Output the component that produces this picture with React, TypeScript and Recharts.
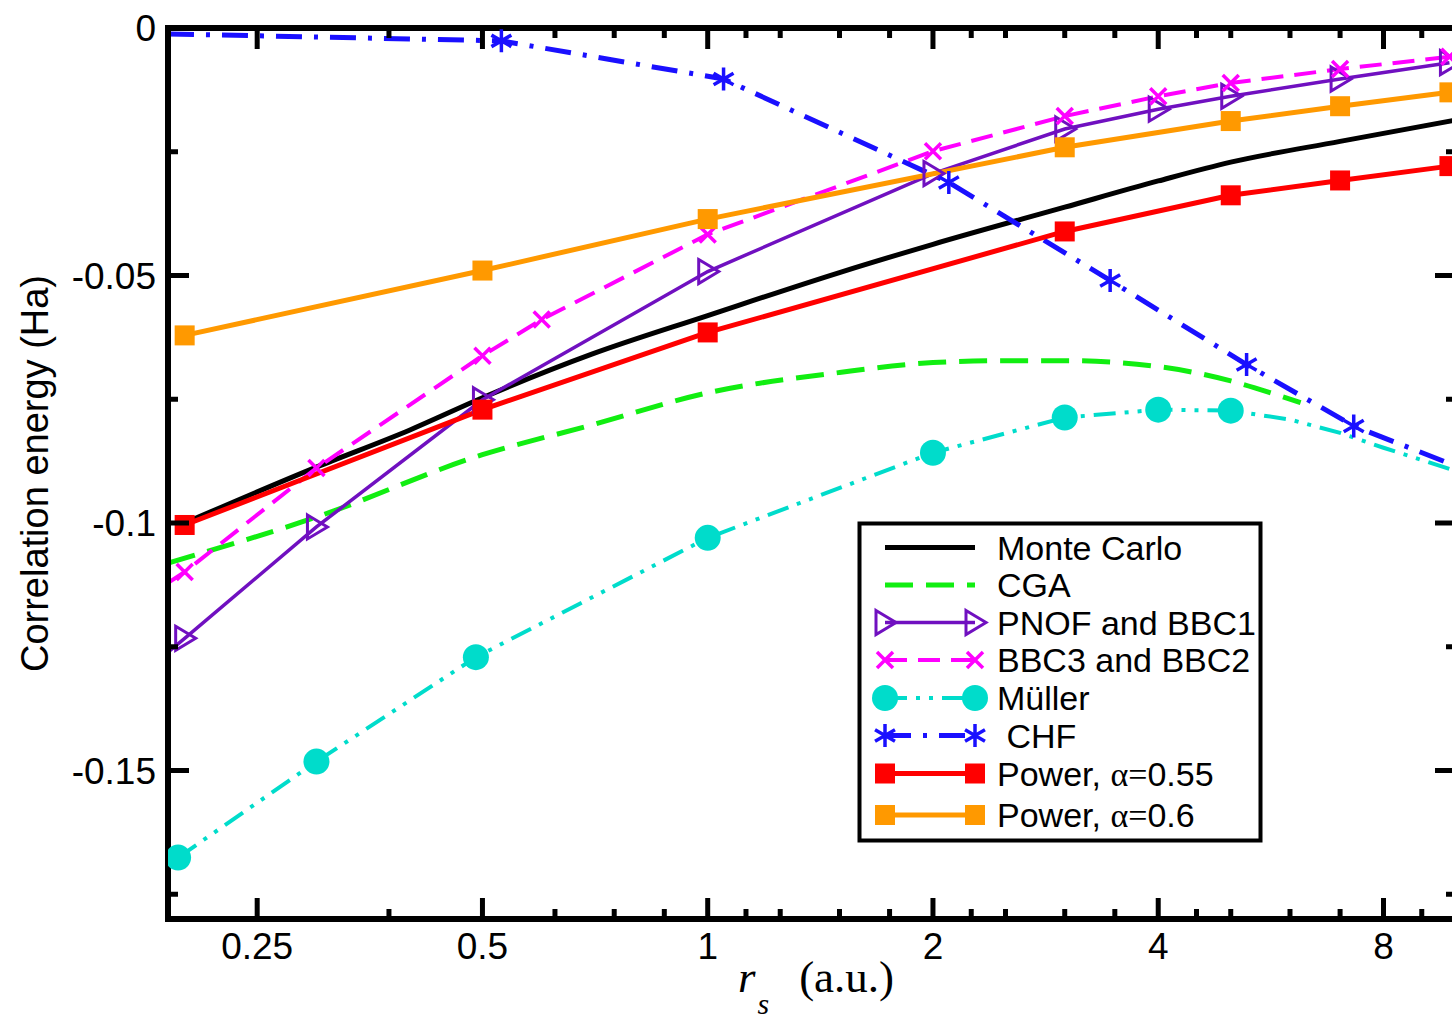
import React from "react";
import { LineChart, Line, XAxis, YAxis, ReferenceLine } from "recharts";

// axis ticks
const X_MAJOR = [0.25, 0.5, 1, 2, 4, 8];
const X_MINOR = [0.375, 0.625, 0.75, 0.875, 1.125, 1.25, 1.5, 1.75, 2.25, 2.5, 3, 3.5, 4.5, 5, 6, 7, 9];
const Y_MAJOR = [0, -0.05, -0.1, -0.15];
const Y_MINOR = [-0.025, -0.075, -0.125, -0.175];

// Monte Carlo
const MC_RS = [0.2, 0.3, 0.4, 0.5, 0.7, 1, 1.5, 2, 3, 4, 5, 7, 10];
const MC_E = [-0.1, -0.0887, -0.0812, -0.0747, -0.0659, -0.0581, -0.0494, -0.0437, -0.0362, -0.0309, -0.0271, -0.0229, -0.0186];

// CGA
const CGA_RS = [0.19, 0.3, 0.5, 0.7, 1, 1.5, 2, 2.5, 3, 4, 5, 5.6, 6.2];
const CGA_E = [-0.1081, -0.0988, -0.0862, -0.0802, -0.0737, -0.0696, -0.0676, -0.0672, -0.0672, -0.0684, -0.0713, -0.0735, -0.0757];

// PNOF and BBC1
const PNOF_RS = [0.19, 0.2, 0.3, 0.5, 1, 2, 3, 4, 5, 7, 9.8];
const PNOF_E = [-0.1261, -0.1233, -0.1008, -0.0751, -0.0492, -0.0294, -0.0204, -0.0164, -0.0138, -0.0103, -0.007];
const PNOF_MARK = [0, 1, 1, 1, 1, 1, 1, 1, 1, 1, 1];

// BBC3 and BBC2
const BBC3_RS = [0.19, 0.2, 0.3, 0.5, 0.6, 1, 2, 3, 4, 5, 7, 9.8];
const BBC3_E = [-0.1121, -0.1099, -0.0889, -0.0662, -0.0589, -0.0417, -0.0249, -0.0178, -0.0138, -0.0111, -0.0083, -0.0058];
const BBC3_MARK = [0, 1, 1, 1, 1, 1, 1, 1, 1, 1, 1, 1];

// Müller
const MULLER_RS = [0.196, 0.3, 0.49, 1, 2, 3, 4, 5, 6, 7, 8, 10];
const MULLER_E = [-0.1676, -0.1482, -0.1271, -0.103, -0.0858, -0.0787, -0.0771, -0.0773, -0.0791, -0.0818, -0.0848, -0.0895];
const MULLER_MARK = [1, 1, 1, 1, 1, 1, 1, 1, 0, 0, 0, 0];

// CHF
const CHF_RS = [0.19, 0.53, 1.05, 2.1, 3.45, 5.25, 7.3, 10];
const CHF_E = [-0.0012, -0.0026, -0.0103, -0.0312, -0.051, -0.068, -0.0804, -0.0885];
const CHF_MARK = [0, 1, 1, 1, 1, 1, 1, 0];

// Power functional
const POWER_RS = [0.2, 0.5, 1, 3, 5, 7, 9.8];
const POWER055_E = [-0.1004, -0.0771, -0.0615, -0.0411, -0.0338, -0.0308, -0.0279];
const POWER06_E = [-0.0621, -0.049, -0.0386, -0.0241, -0.0188, -0.0158, -0.013];

const W = 1480;
const H = 1019;
const AX = 1; // axis band thickness
const M = { top: 28, right: 24, bottom: 100 - AX, left: 168 - AX };
const PLOT_TOP = M.top;
const PLOT_RIGHT = W - M.right;

const SANS = "'Liberation Sans', Arial, Helvetica, sans-serif";
const SERIF = "'Liberation Serif', 'Times New Roman', serif";

type MarkerKind = "tri" | "cross" | "circle" | "star" | "square";

function Marker({ kind, cx, cy, color }: { kind: MarkerKind; cx: number; cy: number; color: string }) {
  switch (kind) {
    case "square":
      return <rect x={cx - 10} y={cy - 10} width={20} height={20} fill={color} />;
    case "tri":
      return (
        <path
          d={`M${cx - 9},${cy - 12} L${cx + 11},${cy} L${cx - 9},${cy + 12} Z`}
          fill="none"
          stroke={color}
          strokeWidth={3}
        />
      );
    case "cross":
      return (
        <path
          d={`M${cx - 8},${cy - 8} L${cx + 8},${cy + 8} M${cx - 8},${cy + 8} L${cx + 8},${cy - 8}`}
          stroke={color}
          strokeWidth={3.5}
        />
      );
    case "circle":
      return <circle cx={cx} cy={cy} r={13} fill={color} />;
    case "star": {
      const r = 11.5;
      const c = r * Math.cos(Math.PI / 6);
      const s = r * Math.sin(Math.PI / 6);
      return (
        <path
          d={`M${cx},${cy - r} L${cx},${cy + r} M${cx - c},${cy - s} L${cx + c},${cy + s} M${cx - c},${cy + s} L${cx + c},${cy - s}`}
          stroke={color}
          strokeWidth={3.5}
        />
      );
    }
  }
  return null;
}

type Series = {
  name: string;
  rs: number[];
  e: number[];
  mark?: number[];
  color: string;
  width: number;
  dash?: string;
  marker?: MarkerKind;
  smooth?: boolean;
};

const SERIES: Series[] = [
  { name: "Monte Carlo", rs: MC_RS, e: MC_E, color: "#000000", width: 5, smooth: true },
  { name: "CGA", rs: CGA_RS, e: CGA_E, color: "#11ee11", width: 5, dash: "28 13", smooth: true },
  { name: "PNOF and BBC1", rs: PNOF_RS, e: PNOF_E, mark: PNOF_MARK, color: "#7010c0", width: 3.5, marker: "tri" },
  { name: "BBC3 and BBC2", rs: BBC3_RS, e: BBC3_E, mark: BBC3_MARK, color: "#ff00ff", width: 4, dash: "22 11", marker: "cross" },
  { name: "Müller", rs: MULLER_RS, e: MULLER_E, mark: MULLER_MARK, color: "#00dccb", width: 4, dash: "22 9 4 9 4 9", marker: "circle" },
  { name: " CHF", rs: CHF_RS, e: CHF_E, mark: CHF_MARK, color: "#1a10ff", width: 5, dash: "26 12 4 12", marker: "star" },
  { name: "Power, α=0.55", rs: POWER_RS, e: POWER055_E, color: "#ff0000", width: 5, marker: "square" },
  { name: "Power, α=0.6", rs: POWER_RS, e: POWER06_E, color: "#ff9900", width: 5, marker: "square" },
];

const toRows = (s: Series) => s.rs.map((x, i) => ({ x, y: s.e[i], m: s.mark ? s.mark[i] === 1 : true }));

const makeDot = (s: Series) => (p: any) => {
  const { cx, cy, payload, index } = p;
  const key = `${s.name}-${index}`;
  if (!s.marker || !payload || !payload.m || cx == null || cy == null) return <g key={key} />;
  return (
    <g key={key}>
      <Marker kind={s.marker} cx={cx} cy={cy} color={s.color} />
    </g>
  );
};

function XTick(props: any) {
  const { x, y, payload } = props;
  const v = payload.value;
  const major = X_MAJOR.includes(v);
  const len = major ? 21 : 10;
  return (
    <g>
      <line x1={x} x2={x} y1={y} y2={y - len} stroke="#000" strokeWidth={5} />
      <line x1={x} x2={x} y1={PLOT_TOP} y2={PLOT_TOP + len} stroke="#000" strokeWidth={5} />
      {major && (
        <text x={x} y={y + 40} textAnchor="middle" fontFamily={SANS} fontSize={37} fill="#000">
          {String(v)}
        </text>
      )}
    </g>
  );
}

function YTick(props: any) {
  const { x, y, payload } = props;
  const v = payload.value;
  const major = Y_MAJOR.includes(v);
  const len = major ? 21 : 10;
  return (
    <g>
      <line x1={x} x2={x + len} y1={y} y2={y} stroke="#000" strokeWidth={5} />
      <line x1={PLOT_RIGHT} x2={PLOT_RIGHT - len} y1={y} y2={y} stroke="#000" strokeWidth={5} />
      {major && (
        <text x={x - 12} y={y} dy="0.36em" textAnchor="end" fontFamily={SANS} fontSize={37} fill="#000">
          {String(v)}
        </text>
      )}
    </g>
  );
}

const XLabel = (props: any) => {
  const vb = props.viewBox || { x: M.left + AX, y: H - M.bottom - AX, width: PLOT_RIGHT - M.left - AX };
  const cx = vb.x + vb.width / 2 + 4;
  return (
    <text x={cx} y={H - M.bottom - AX + 73} textAnchor="middle" fontFamily={SERIF} fontSize={45} fill="#000">
      <tspan fontStyle="italic">r</tspan>
      <tspan fontStyle="italic" fontSize={30} dx={2} dy={22}>s</tspan>
      <tspan dx={30} dy={-22}>(a.u.)</tspan>
    </text>
  );
};

const YLabel = () => {
  const top = M.top;
  const height = H - M.top - M.bottom - AX;
  const cy = top + height / 2;
  return (
    <text x={48} y={cy} transform={`rotate(-90 48 ${cy})`} textAnchor="middle" fontFamily={SANS} fontSize={38} fill="#000">
      Correlation energy (Ha)
    </text>
  );
};

const LEG_BOX = { x: 859.5, y: 523.5, w: 401, h: 317 };
const LEG_ROWS = [547.5, 585, 622.5, 660, 698, 735.5, 773.5, 815];
const LEG_X0 = 885;
const LEG_X1 = 975;
const LEG_TEXT_X = 997;

function LegendLabel({ name, x, y }: { name: string; x: number; y: number }) {
  const i = name.indexOf("α=");
  if (i < 0) {
    return (
      <text x={x} y={y} fontFamily={SANS} fontSize={34} fill="#000" style={{ whiteSpace: "pre" }}>
        {name}
      </text>
    );
  }
  return (
    <text x={x} y={y} fontFamily={SANS} fontSize={34} fill="#000" style={{ whiteSpace: "pre" }}>
      {name.slice(0, i)}
      <tspan fontFamily={SERIF}>α=</tspan>
      {name.slice(i + 2)}
    </text>
  );
}

function LegendBox() {
  return (
    <svg width={1452} height={1019} style={{ position: "absolute", left: 0, top: 0, pointerEvents: "none" }}>
      <rect x={LEG_BOX.x} y={LEG_BOX.y} width={LEG_BOX.w} height={LEG_BOX.h} fill="#fff" stroke="#000" strokeWidth={4} />
      {SERIES.map((s, i) => {
        const y = LEG_ROWS[i];
        return (
          <g key={s.name}>
            <line x1={LEG_X0} x2={LEG_X1} y1={y} y2={y} stroke={s.color} strokeWidth={s.width} strokeDasharray={s.dash} />
            {s.marker && <Marker kind={s.marker} cx={LEG_X0} cy={y} color={s.color} />}
            {s.marker && <Marker kind={s.marker} cx={LEG_X1} cy={y} color={s.color} />}
            <LegendLabel name={s.name} x={LEG_TEXT_X} y={y + 12} />
          </g>
        );
      })}
    </svg>
  );
}

export default function App() {
  const xTicks = [...X_MAJOR, ...X_MINOR].sort((a, b) => a - b);
  const yTicks = [...Y_MAJOR, ...Y_MINOR].sort((a, b) => a - b);
  return (
    <div style={{ position: "absolute", left: 0, top: 0, width: 1452, height: 1019, overflow: "hidden", background: "#fff" }}>
      <LineChart width={W} height={H} margin={M}>
        <XAxis
          dataKey="x"
          type="number"
          scale="log"
          domain={[0.19, 10]}
          allowDataOverflow
          ticks={xTicks}
          interval={0}
          tickSize={0}
          tickMargin={0}
          tickLine={false}
          height={AX}
          axisLine={{ stroke: "#000", strokeWidth: 6, strokeLinecap: "square" }}
          tick={(p: any) => <XTick {...p} />}
          label={XLabel}
        />
        <YAxis
          type="number"
          domain={[-0.18, 0]}
          allowDataOverflow
          ticks={yTicks}
          interval={0}
          tickSize={0}
          tickMargin={0}
          tickLine={false}
          width={AX}
          axisLine={{ stroke: "#000", strokeWidth: 6, strokeLinecap: "square" }}
          tick={(p: any) => <YTick {...p} />}
          label={YLabel}
        />
        <ReferenceLine y={0} stroke="#000" strokeWidth={6} />
        {SERIES.map((s) => (
          <Line
            key={s.name}
            name={s.name}
            data={toRows(s)}
            dataKey="y"
            type={s.smooth ? "monotone" : "linear"}
            stroke={s.color}
            strokeWidth={s.width}
            strokeDasharray={s.dash}
            dot={s.marker ? makeDot(s) : false}
            activeDot={false}
            isAnimationActive={false}
          />
        ))}
      </LineChart>
      <LegendBox />
    </div>
  );
}
